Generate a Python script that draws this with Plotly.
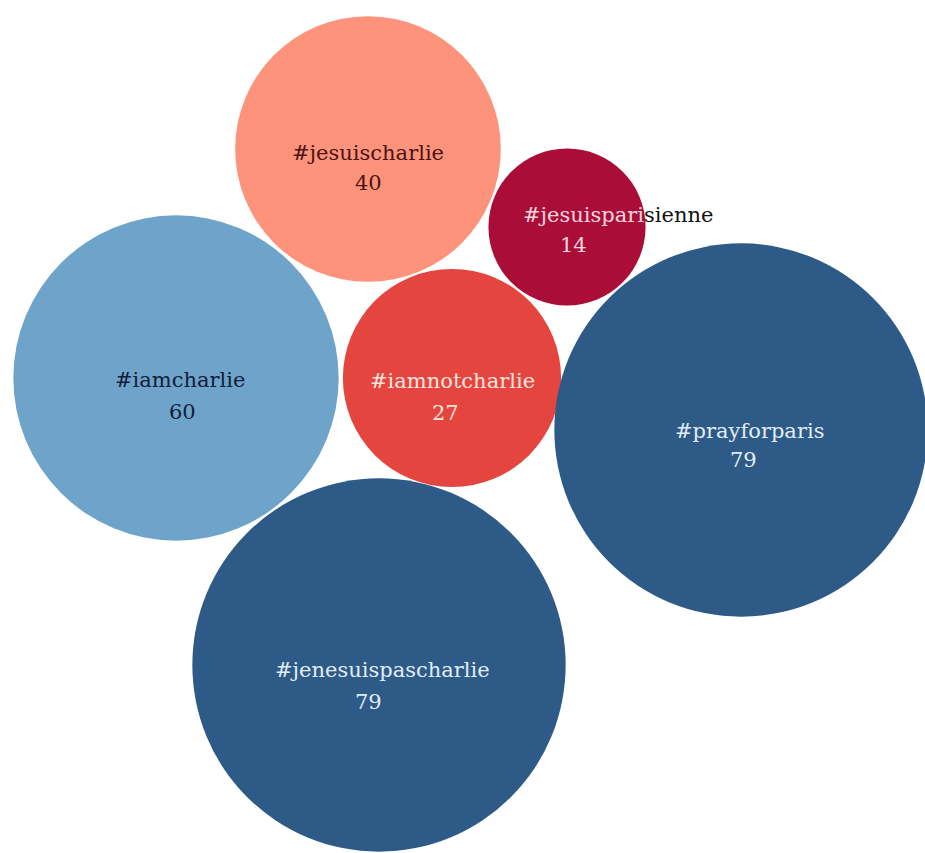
import numpy as np
import plotly.graph_objects as go

# Hashtag counts
hashtags = ["#jesuischarlie", "#jesuisparisienne", "#iamcharlie",
            "#iamnotcharlie", "#prayforparis", "#jenesuispascharlie"]
counts = [40, 14, 60, 27, 79, 79]

# Packed-bubble layout (pixel space of the 925 x 853 canvas)
centers_x = [368, 567, 176, 452, 741, 379]
centers_y = [149, 227, 378, 378, 430, 665]
# text offsets from the bubble centre, in pixels (x right, y down)
label_dx = [0, 51, 4, 0, 8, 3]
label_dy = [4, -12, 2, 3, 1, 5]
value_dx = [0, 6, 6, -7, 2, -11]
value_dy = [34, 18, 34, 35, 30, 37]

fill_colors = ["#fc937a", "#a90d38", "#6fa4ca", "#e4463f", "#2d5a87", "#2d5a87"]
text_colors = ["#4a1414", "#fcd6de", "#10203a", "#fde2dd", "#e1edf8", "#e1edf8"]
outside_text_color = "#111111"

W, H = 925, 853
RADIUS_PER_SQRT = 21.0  # bubble area proportional to count

diam = [2 * RADIUS_PER_SQRT * np.sqrt(c) for c in counts]

fig = go.Figure()
fig.add_trace(go.Scatter(
    x=centers_x, y=centers_y, mode="markers",
    marker=dict(size=diam, sizemode="diameter", color=fill_colors,
                opacity=1, line=dict(width=0)),
    hoverinfo="text", text=[f"{h}: {c}" for h, c in zip(hashtags, counts)],
    showlegend=False,
))

font_family = "DejaVu Serif"
font_size = 21

for i, (tag, cnt) in enumerate(zip(hashtags, counts)):
    label = tag
    if tag == "#jesuisparisienne":
        # part of the label runs past the bubble edge onto the white page
        label = (f"<span style='color:{text_colors[i]}'>#jesuispari</span>"
                 f"<span style='color:{outside_text_color}'>sienne</span>")
    fig.add_annotation(x=centers_x[i], y=centers_y[i], xref="x", yref="y",
                       text=label, showarrow=False,
                       xshift=label_dx[i], yshift=-label_dy[i],
                       font=dict(family=font_family, size=font_size, color=text_colors[i]))
    fig.add_annotation(x=centers_x[i], y=centers_y[i], xref="x", yref="y",
                       text=str(cnt), showarrow=False,
                       xshift=value_dx[i], yshift=-value_dy[i],
                       font=dict(family=font_family, size=font_size, color=text_colors[i]))

fig.update_xaxes(range=[0, W], visible=False, fixedrange=True)
fig.update_yaxes(range=[H, 0], visible=False, fixedrange=True)
fig.update_layout(width=W, height=H, margin=dict(l=0, r=0, t=0, b=0),
                  paper_bgcolor="white", plot_bgcolor="white")

fig.write_html("out.html")
